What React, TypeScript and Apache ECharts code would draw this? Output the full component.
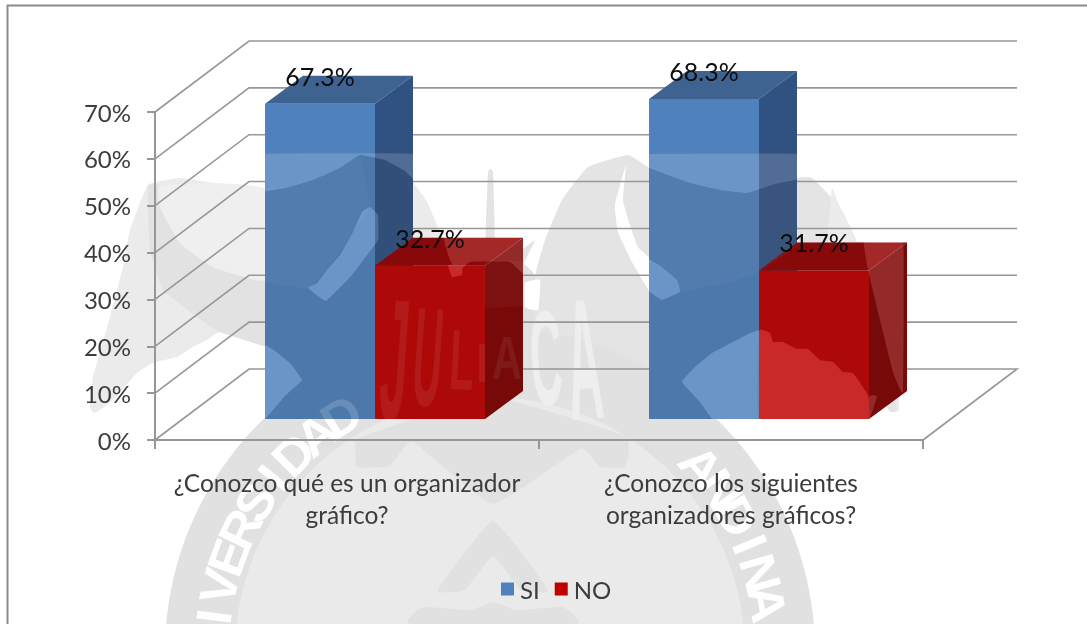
import React, { useEffect, useRef } from "react";
import * as echarts from "echarts";

const categories = ["¿Conozco qué es un organizador\ngráfico?", "¿Conozco los siguientes\norganizadores gráficos?"];
const siValues = [67.3, 68.3];
const noValues = [32.7, 31.7];
const yTicks = [0, 10, 20, 30, 40, 50, 60, 70];
const FONT = "Lato";
const TEXT = "#3c3c3c";
const GRID = "#979797";

// 3-D projection of the plot (pixels)
const WALL_DX = 94;
const WALL_DY = -71;
const BAR_SHIFT_X = 28;
const BAR_SHIFT_Y = -21;
const BAR_W = 110;
const DEPTH_X = 38;
const DEPTH_Y = -28;

type Pt = [number, number];

// ---- watermark outlines (decorative image behind the chart) ----
const leftBird: Pt[] = [[148,185],[180,178],[213,183],[266,190],[313,180],[360,155],[400,167],[426,200],[443,240],[453,280],[440,400],[302,380],[285,358],[266,347],[247,337],[220,332],[207,340],[193,347],[177,357],[153,363],[137,373],[113,400],[95,413],[90,407],[93,377],[110,317],[123,267],[130,230]];
const leftBirdInner: Pt[] = [[148,186],[160,186],[160,207],[180,243],[213,267],[266,280],[310,290],[340,300],[302,380],[285,358],[266,347],[220,332],[197,317],[163,290],[150,250]];
const leftBirdHead: Pt[] = [[160,186],[213,183],[266,190],[266,280],[213,267],[180,243],[160,207]];
const rightBird: Pt[] = [[628,155],[650,168],[700,186],[747,193],[797,178],[812,178],[840,207],[860,250],[887,350],[899,383],[898,410],[890,412],[880,395],[868,395],[853,373],[843,372],[833,362],[820,360],[808,349],[797,349],[783,342],[773,342],[770,333],[759,330],[712,353],[682,382],[600,400],[530,340],[535,277],[545,240],[562,200],[588,167]];
const rightBirdLight: Pt[] = [[832,188],[840,207],[860,250],[887,350],[899,383],[898,412],[880,320],[864,243],[828,243],[830,210]];
const birdGap: Pt[] = [[626,165],[615,205],[618,232],[632,262],[650,292],[662,300],[680,292],[677,280],[662,267],[650,258],[638,247],[630,225],[623,200]];
const gapSmall: Pt[] = [[525,283],[540,280],[538,310],[525,307]];
const centre: Pt[] = [[453,275],[470,262],[520,262],[535,277],[530,345],[453,345]];
const spike: Pt[] = [[488,173],[493,173],[495,262],[485,262]];
const rayR: Pt[] = [[535,240],[518,273],[508,262]];
const rayL: Pt[] = [[443,247],[458,273],[470,262]];
const topBand: Pt[] = [[349,441],[355,441],[357,467],[390,466],[413,442],[493,504],[580,449],[600,467],[625,467],[625,436],[490,397]];
const peak: Pt[] = [[493,521],[438,590],[465,590],[493,556],[521,590],[548,590]];
const peakLow: Pt[] = [[493,602],[470,610],[423,607],[410,624],[576,624],[563,607],[516,610]];

// parts of the bars where the watermark brightens them
const lightPatches: Pt[][] = [
  [[262,154],[417,154],[417,182],[405,171],[385,160],[360,155],[340,168],[313,180],[290,187],[262,191]],
  [[370,207],[378,215],[378,240],[352,275],[326,301],[308,288],[317,283],[327,270],[340,255],[353,232],[362,212]],
  [[262,345],[275,351],[290,363],[302,380],[285,396],[262,421]],
  [[445,237],[527,237],[527,277],[510,262],[470,262],[458,272],[450,260]],
  [[448,265],[462,265],[462,275],[452,277]],
  [[645,154],[801,154],[801,178],[775,184],[747,193],[720,190],[690,183],[665,174],[645,166]],
  [[645,258],[650,260],[662,267],[677,280],[680,292],[662,300],[650,292],[645,288]],
  [[682,382],[695,367],[712,353],[735,341],[759,331],[759,423],[716,423],[700,402]],
  [[759,331],[770,333],[773,342],[783,342],[797,349],[808,349],[820,360],[833,362],[843,372],[853,373],[868,395],[869,423],[759,423]],
  [[864,240],[903,240],[903,392],[893,372],[880,320],[868,270]],
  [[869,397],[873,395],[877,397],[869,421]],
];
const midPatches: Pt[][] = [
  [[262,191],[290,187],[313,180],[340,168],[360,155],[370,207],[353,232],[327,270],[308,288],[262,280]],
  [[645,166],[665,174],[690,183],[720,190],[747,193],[775,184],[801,178],[801,243],[759,272],[730,282],[680,292],[677,280],[662,267],[645,258]],
  [[485,262],[527,262],[527,305],[485,307]],
];

const pathOf = (pts: Pt[], k = 0.06) => {
  const n = pts.length;
  let d = `M${pts[0][0]} ${pts[0][1]}`;
  for (let i = 0; i < n; i++) {
    const p0 = pts[(i - 1 + n) % n], p1 = pts[i], p2 = pts[(i + 1) % n], p3 = pts[(i + 2) % n];
    d += `C${p1[0] + (p2[0] - p0[0]) * k} ${p1[1] + (p2[1] - p0[1]) * k} ${p2[0] - (p3[0] - p1[0]) * k} ${p2[1] - (p3[1] - p1[1]) * k} ${p2[0]} ${p2[1]}`;
  }
  return d + "Z";
};
const area = (pts: Pt[]) => pts.reduce((s, p, i) => { const q = pts[(i + 1) % pts.length]; return s + p[0] * q[1] - q[0] * p[1]; }, 0);
const asHole = (pts: Pt[]) => (area(pts) > 0 ? [...pts].reverse() : pts);
const straight = (pts: Pt[]) => "M" + pts.map((p) => `${p[0]} ${p[1]}`).join("L") + "Z";

const regD = (name: string, d: string) => echarts.graphic.registerShape(name, (echarts.graphic as any).extendPath(d, {}));

const bgShapes: [string, Pt[], string][] = [
  ["wmA", leftBird, "#ebebeb"],
  ["wmB", leftBirdInner, "#e2e2e2"],
  ["wmC", leftBirdHead, "#efefef"],
  ["wmD", rightBird, "#e4e4e4"],
  ["wmE", rightBirdLight, "#ececec"],
  ["wmF", birdGap, "#ffffff"],
  ["wmG", centre, "#e1e1e1"],
  ["wmH", gapSmall, "#ffffff"],
  ["wmI", spike, "#e3e3e3"],
  ["wmJ", rayR, "#e3e3e3"],
  ["wmK", rayL, "#e3e3e3"],
];
const bgInner: [string, Pt[], string][] = [
  ["wmL", topBand, "#e1e1e1"],
  ["wmM", peak, "#e1e1e1"],
  ["wmN", peakLow, "#e1e1e1"],
];
[...bgShapes, ...bgInner].forEach(([n, p]) => regD(n, pathOf(p)));

const darkRect: Pt[] = [[0, 154], [1087, 154], [1087, 624], [0, 624]];
regD("wmDark", straight(darkRect) + lightPatches.map((p) => pathOf(asHole(p), 0.04)).join(""));
regD("wmLight", lightPatches.map((p) => pathOf(p, 0.04)).join(""));
regD("wmMid", midPatches.map((p) => pathOf(p, 0.04)).join(""));

// letters of the watermark
const RING_X = 490, RING_Y = 652;
const ringWord = (word: string, start: number, step: number, r: number) =>
  word.split("").map((ch, i) => {
    const a = ((start + i * step) * Math.PI) / 180;
    return { ch, x: RING_X + r * Math.sin(a), y: RING_Y - r * Math.cos(a), rotation: -a, scaleY: 1, scaleX: 1.05 };
  });
const ringLetters = [...ringWord("IVERSIDAD", -82.7, 6.3, 278), ...ringWord("ANDINA", 48.6, 6.3, 281)];
const juliaca = [
  { ch: "J", x: 395, y: 360, h: 126, w: 1.2, tilt: 4 },
  { ch: "U", x: 428, y: 357, h: 102, w: 1.0, tilt: 4 },
  { ch: "L", x: 462, y: 360, h: 62, w: 1.0, tilt: 3 },
  { ch: "I", x: 482, y: 363, h: 40, w: 1.0, tilt: 0 },
  { ch: "A", x: 507, y: 358, h: 44, w: 1.05, tilt: 0 },
  { ch: "C", x: 546, y: 358, h: 97, w: 1.1, tilt: -3 },
  { ch: "A", x: 584, y: 359, h: 125, w: 1.2, tilt: -4 },
].map((l) => ({ ch: l.ch, x: l.x, y: l.y, rotation: (-l.tilt * Math.PI) / 180, scaleX: l.w, scaleY: l.h / 29 }));

const letterEl = (l: any, fill: string, size: number) => ({
  type: "text",
  x: l.x, y: l.y, rotation: l.rotation, scaleX: l.scaleX, scaleY: l.scaleY,
  style: { text: l.ch, fill, fontFamily: "Liberation Sans", fontSize: size, fontWeight: "bold", align: "center", verticalAlign: "middle" },
});

const barSeries = (name: string, values: number[], colors: { front: string; top: string; side: string }, side: number) => ({
  type: "custom",
  name,
  silent: true,
  clip: false,
  z: 5,
  itemStyle: { color: colors.front },
  encode: { x: 0, y: 1 },
  data: values.map((v, i) => [i, v]),
  renderItem: (_: any, api: any) => {
    const cat = api.value(0);
    const val = api.value(1);
    const base = api.coord([cat, 0]);
    const top = api.coord([cat, val]);
    const x0 = base[0] + BAR_SHIFT_X + (side === 0 ? -BAR_W : 0);
    const x1 = x0 + BAR_W;
    const yB = base[1] + BAR_SHIFT_Y;
    const yT = top[1] + BAR_SHIFT_Y;
    const dx = DEPTH_X, dy = DEPTH_Y;
    const sil: Pt[] = [[x0, yT], [x0 + dx, yT + dy], [x1 + dx, yT + dy], [x1 + dx, yB + dy], [x1, yB], [x0, yB]];
    const over: any[] = [
      { type: "wmDark", style: { fill: "rgba(66,66,66,0.136)" } },
      { type: "wmLight", style: { fill: "rgba(255,255,255,0.16)" } },
      { type: "wmMid", style: { fill: "rgba(255,255,255,0.035)" } },
    ];
    if (cat === 0 && side === 0) ringLetters.slice(6, 9).forEach((l) => over.push(letterEl(l, "rgba(255,255,255,0.16)", 50)));
    if (cat === 0 && side === 1) juliaca.slice(0, 5).forEach((l) => over.push(letterEl(l, "rgba(255,255,255,0.07)", 40)));
    return {
      type: "group",
      children: [
        { type: "polygon", shape: { points: [[x0, yT], [x1, yT], [x1, yB], [x0, yB]] }, style: { fill: colors.front } },
        { type: "polygon", shape: { points: [[x0, yT], [x0 + dx, yT + dy], [x1 + dx, yT + dy], [x1, yT]] }, style: { fill: colors.top } },
        { type: "polygon", shape: { points: [[x1, yT], [x1 + dx, yT + dy], [x1 + dx, yB + dy], [x1, yB]] }, style: { fill: colors.side } },
        { type: "group", clipPath: { type: "polygon", shape: { points: sil } }, children: over },
        {
          type: "text",
          x: (x0 + x1) / 2,
          y: yT + dy,
          style: { text: val.toFixed(1) + "%", fill: "#0c0c0c", fontFamily: FONT, fontSize: 25, align: "center", verticalAlign: "middle" },
        },
      ],
    };
  },
});

export default function App() {
  const ref = useRef<HTMLDivElement>(null);
  useEffect(() => {
    document.body.style.margin = "0";
    const chart = echarts.init(ref.current!, undefined, { renderer: "svg" });
    const bgEls: any[] = [
      ...bgShapes.map(([type, , fill]) => ({ type, z: -10, style: { fill } })),
      { type: "circle", z: -10, shape: { cx: RING_X, cy: RING_Y, r: 325 }, style: { fill: "#e1e1e1" } },
      { type: "circle", z: -10, shape: { cx: RING_X, cy: RING_Y, r: 255 }, style: { fill: "#eaeaea" } },
      ...bgInner.map(([type, , fill]) => ({ type, z: -10, style: { fill } })),
      ...ringLetters.map((l) => ({ ...letterEl(l, "#ffffff", 50), z: -10 })),
      ...juliaca.map((l) => ({ ...letterEl(l, "#eeeeee", 40), z: -10 })),
      { type: "polyline", z: 20, shape: { points: [[7.5, 624], [7.5, 5.5], [1087, 5.5]] }, style: { stroke: "#8c8c8c", lineWidth: 2, fill: "none" } },
    ];
    chart.setOption({
      animation: false,
      backgroundColor: "#ffffff",
      textStyle: { fontFamily: FONT },
      graphic: { elements: bgEls },
      legend: {
        data: ["SI", "NO"],
        left: 496,
        top: 572,
        icon: "rect",
        itemWidth: 13,
        itemHeight: 13,
        itemGap: 15,
        selectedMode: false,
        textStyle: { fontFamily: FONT, fontSize: 24, color: TEXT, padding: [0, 0, 0, 1] },
      },
      grid: { left: 155, top: 112, width: 768, height: 328, containLabel: false },
      xAxis: {
        type: "category",
        data: categories,
        axisLine: { lineStyle: { color: GRID, width: 2 } },
        axisTick: { show: true, length: 9, lineStyle: { color: GRID, width: 2 } },
        axisLabel: { interval: 0, margin: 26, fontFamily: FONT, fontSize: 24.5, lineHeight: 32, color: TEXT },
      },
      yAxis: {
        type: "value",
        min: 0,
        max: 70,
        interval: 10,
        axisLine: { show: true, lineStyle: { color: GRID, width: 2 } },
        axisTick: { show: true, length: 8, lineStyle: { color: GRID, width: 2 } },
        splitLine: { show: false },
        axisLabel: { margin: 24, fontFamily: FONT, fontSize: 24, color: TEXT, formatter: "{value}%" },
      },
      series: [
        {
          type: "custom",
          name: "grid",
          silent: true,
          clip: false,
          z: 2,
          encode: { x: 0, y: 1 },
          data: yTicks.map((v) => [0, v]),
          renderItem: (params: any, api: any) => {
            const v = api.value(1);
            const y = api.coord([0, v])[1];
            const L = params.coordSys.x;
            const R = L + params.coordSys.width;
            const points: Pt[] = [[L, y], [L + WALL_DX, y + WALL_DY], [R + WALL_DX, y + WALL_DY]];
            if (v === 0) points.push([R, y]);
            return { type: "polyline", shape: { points }, style: { stroke: GRID, lineWidth: 1.6, fill: "none" } };
          },
        },
        barSeries("SI", siValues, { front: "#4f81bd", top: "#3e6391", side: "#305282" }, 0),
        barSeries("NO", noValues, { front: "#c00000", top: "#920000", side: "#800000" }, 1),
      ],
    } as any);
    return () => chart.dispose();
  }, []);
  return <div ref={ref} style={{ position: "absolute", left: 0, top: 0, width: 1087, height: 624, filter: "blur(0.4px)" }} />;
}
